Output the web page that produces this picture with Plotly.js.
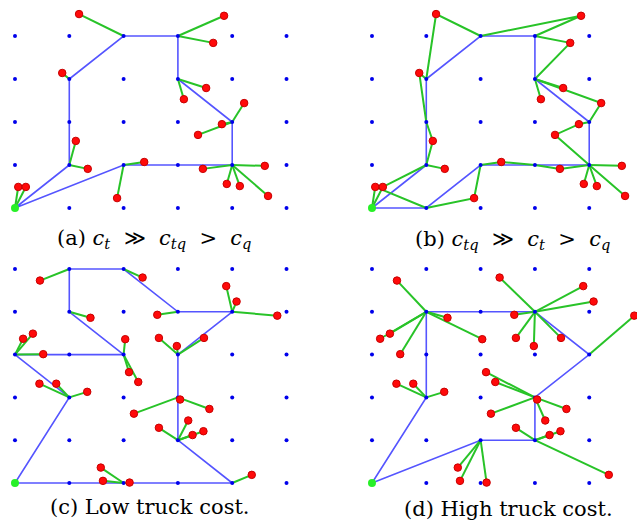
<!DOCTYPE html>
<html>
<head>
<meta charset="utf-8">
<script src="https://cdn.plot.ly/plotly-3.0.1.min.js"></script>
<style>html,body{margin:0;padding:0;background:#fff;}#chart{width:637px;height:522px;}</style>
</head>
<body>
<div id="chart"></div>
<script>
// ---------- grid (candidate stop locations) ----------
const gridCols = [0, 1, 2, 3, 4, 5];
const gridRowsTop = [0, 1, 2, 3, 4];
const gridRowsBottom = [0, 1, 2, 3, 4, 5];
const depotX = [0];
const depotY = [0];

// ---------- customers, instance of panels (a)/(b) ----------
const custTopX = [1.18, 3.85, 3.65, 0.87, 3.52, 3.11, 4.22, 3.81, 3.37, 1.12, 1.34, 2.38, 1.88, 3.46, 4.60, 3.90, 4.14, 4.66, 0.06, 0.20];
const custTopY = [4.51, 4.47, 3.84, 3.14, 2.79, 2.53, 2.44, 1.95, 1.70, 1.56, 0.91, 1.07, 0.23, 0.91, 0.98, 0.56, 0.51, 0.28, 0.49, 0.49];

// ---------- customers, instance of panels (c)/(d) ----------
const custBotX = [0.46, 2.35, 3.89, 4.08, 4.83, 1.39, 2.62, 0.15, 0.33, 0.52, 2.03, 2.65, 2.98, 3.48, 2.10, 2.27, 0.45, 0.76, 1.33, 3.04, 3.58, 2.19, 3.19, 2.65, 3.47, 3.27, 1.58, 1.62, 2.11, 4.36];
const custBotY = [4.73, 4.80, 4.60, 4.24, 3.91, 3.86, 3.93, 3.37, 3.49, 3.01, 3.36, 3.39, 3.20, 3.39, 2.59, 2.36, 2.32, 2.32, 2.13, 1.95, 1.73, 1.62, 1.46, 1.29, 1.21, 1.12, 0.36, 0.05, 0.01, 0.19];

// ---------- truck routes ----------
const truckAX = [0, 1, 1, 1, 2, 3, 3, 4, 4, 3, 2, 0];
const truckAY = [0, 1, 2, 3, 4, 4, 3, 2, 1, 1, 1, 0];
const truckBX = [0, 1, 2, 3, 4, 4, 3, 3, 2, 1, 1, 1, 0];
const truckBY = [0, 0, 1, 1, 1, 2, 3, 4, 4, 3, 2, 1, 0];
const truckCX = [0, 1, 0, 1, 2, 1, 1, 2, 3, 4, 3, 3, 3, 4, 3, 2, 1, 0];
const truckCY = [0, 2, 3, 3, 3, 4, 5, 5, 4, 4, 3, 2, 1, 0, 0, 0, 0, 0];
const truckDX = [0, 1, 1, 1, 2, 3, 4, 3, 3, 2, 0];
const truckDY = [0, 2, 3, 4, 4, 4, 3, 2, 1, 1, 0];

// ---------- drone assignments (stop serving each customer) ----------
const droneAStopX = [2, 3, 3, 1, 3, 3, 4, 4, 4, 1, 1, 2, 2, 4, 4, 4, 4, 4, 0, 0];
const droneAStopY = [4, 4, 4, 3, 3, 3, 2, 2, 2, 1, 1, 1, 1, 1, 1, 1, 1, 1, 0, 0];
const droneCStopX = [1, 2, 4, 4, 4, 1, 3, 0, 0, 0, 2, 3, 3, 3, 2, 2, 1, 1, 1, 3, 3, 3, 3, 3, 3, 3, 2, 2, 2, 4];
const droneCStopY = [5, 5, 4, 4, 4, 4, 4, 3, 3, 3, 3, 3, 3, 3, 3, 3, 2, 2, 2, 2, 2, 2, 1, 1, 1, 1, 0, 0, 0, 0];
const droneDStopX = [1, 3, 3, 3, 4, 1, 3, 1, 1, 1, 1, 3, 3, 3, 3, 3, 1, 1, 1, 3, 3, 3, 3, 3, 3, 3, 2, 2, 2, 3];
const droneDStopY = [4, 4, 4, 4, 3, 4, 4, 4, 4, 4, 4, 4, 4, 4, 2, 2, 2, 2, 2, 2, 2, 2, 2, 1, 1, 1, 1, 1, 1, 1];

// ---------- drone sorties of panel (b): launch node, customers (index), landing node ----------
const sortiesB = [
  [[2, 4], 0, [1, 3]],
  [[1, 3], 3, [1, 2]],
  [[1, 2], 9, [1, 1]],
  [[1, 1], 10],
  [[1, 1], 19, [0, 0]],
  [[0, 0], 18, [1, 0]],
  [[1, 0], 12, [2, 1]],
  [[2, 1], 11, [3, 1]],
  [[3, 1], 13, [4, 1]],
  [[4, 1], 14],
  [[4, 1], 15],
  [[4, 1], 16],
  [[4, 1], 17],
  [[4, 1], 8, 7, [4, 2]],
  [[4, 2], 6, [3, 3]],
  [[3, 3], 4],
  [[3, 3], 5],
  [[3, 3], 2, [3, 4]],
  [[3, 4], 1, [2, 4]]
];

// ---------- captions ----------
const captions = [
  "(a) <i>c</i><sub><i>t</i></sub> \u00a0≫\u00a0 <i>c</i><sub><i>tq</i></sub> \u00a0>\u00a0 <i>c</i><sub><i>q</i></sub>",
  "(b) <i>c</i><sub><i>tq</i></sub> \u00a0≫\u00a0 <i>c</i><sub><i>t</i></sub> \u00a0>\u00a0 <i>c</i><sub><i>q</i></sub>",
  "(c) Low truck cost.",
  "(d) High truck cost."
];

// ---------- styles ----------
const BLUE_LINE = 'rgb(85,85,255)';
const GREEN_LINE = 'rgb(40,195,40)';
const GRID_DOT = 'rgb(0,0,235)';
const RED = 'rgb(255,10,10)';
const DEPOT = 'rgb(40,240,40)';

function gridTrace(rows, xa, ya) {
  const x = [], y = [];
  rows.forEach(r => gridCols.forEach(c => {
    if (!(c === depotX[0] && r === depotY[0])) { x.push(c); y.push(r); }
  }));
  return {x, y, xaxis: xa, yaxis: ya, type: 'scatter', mode: 'markers',
    marker: {size: 4, color: GRID_DOT}, hoverinfo: 'skip'};
}
function starTrace(sx, sy, cx, cy, xa, ya) {
  const x = [], y = [];
  for (let i = 0; i < cx.length; i++) { x.push(sx[i], cx[i], null); y.push(sy[i], cy[i], null); }
  return {x, y, xaxis: xa, yaxis: ya, type: 'scatter', mode: 'lines',
    line: {color: GREEN_LINE, width: 2}, hoverinfo: 'skip', cliponaxis: false};
}
function sortieTrace(sorties, cx, cy, xa, ya) {
  const x = [], y = [];
  sorties.forEach(s => {
    s.forEach(p => {
      if (Array.isArray(p)) { x.push(p[0]); y.push(p[1]); }
      else { x.push(cx[p]); y.push(cy[p]); }
    });
    if (s.length === 2) { const p = s[0]; x.push(p[0]); y.push(p[1]); }
    x.push(null); y.push(null);
  });
  return {x, y, xaxis: xa, yaxis: ya, type: 'scatter', mode: 'lines',
    line: {color: GREEN_LINE, width: 2}, hoverinfo: 'skip', cliponaxis: false};
}
function truckTrace(x, y, xa, ya) {
  return {x, y, xaxis: xa, yaxis: ya, type: 'scatter', mode: 'lines',
    line: {color: BLUE_LINE, width: 1.6}, hoverinfo: 'skip'};
}
function custTrace(x, y, xa, ya) {
  return {x, y, xaxis: xa, yaxis: ya, type: 'scatter', mode: 'markers', cliponaxis: false,
    marker: {size: 7.5, color: RED, line: {color: 'rgb(200,0,0)', width: 1}}, hoverinfo: 'skip'};
}
function depotTrace(xa, ya) {
  return {x: depotX, y: depotY, xaxis: xa, yaxis: ya, type: 'scatter', mode: 'markers', cliponaxis: false,
    marker: {size: 8, color: DEPOT}, hoverinfo: 'skip'};
}

const data = [
  truckTrace(truckAX, truckAY, 'x', 'y'),
  starTrace(droneAStopX, droneAStopY, custTopX, custTopY, 'x', 'y'),
  gridTrace(gridRowsTop, 'x', 'y'),
  custTrace(custTopX, custTopY, 'x', 'y'),
  depotTrace('x', 'y'),

  truckTrace(truckBX, truckBY, 'x2', 'y2'),
  sortieTrace(sortiesB, custTopX, custTopY, 'x2', 'y2'),
  gridTrace(gridRowsTop, 'x2', 'y2'),
  custTrace(custTopX, custTopY, 'x2', 'y2'),
  depotTrace('x2', 'y2'),

  truckTrace(truckCX, truckCY, 'x3', 'y3'),
  starTrace(droneCStopX, droneCStopY, custBotX, custBotY, 'x3', 'y3'),
  gridTrace(gridRowsBottom, 'x3', 'y3'),
  custTrace(custBotX, custBotY, 'x3', 'y3'),
  depotTrace('x3', 'y3'),

  truckTrace(truckDX, truckDY, 'x4', 'y4'),
  starTrace(droneDStopX, droneDStopY, custBotX, custBotY, 'x4', 'y4'),
  gridTrace(gridRowsBottom, 'x4', 'y4'),
  custTrace(custBotX, custBotY, 'x4', 'y4'),
  depotTrace('x4', 'y4')
];

function ax(domain, range, anchor) {
  return {domain, range, anchor, visible: false, showgrid: false, zeroline: false, fixedrange: true};
}
const W = 637, H = 522;
const leftDom = [1.4 / W, 300.1 / W], rightDom = [358.4 / W, 635.4 / W];
const topDom = [1 - 220.9 / H, 1 - 3.75 / H], botDom = [1 - 495.84 / H, 1 - 258.3 / H];
const xLeft = [-0.25, 5.25], xRight = [-0.25, 4.85];
const yTop = [-0.3, 4.75], yBot = [-0.3, 5.25];

const capFont = {family: 'DejaVu Serif, Liberation Serif, serif', size: 21, color: '#000'};
const layout = {
  width: W, height: H,
  margin: {l: 0, r: 0, t: 0, b: 0},
  paper_bgcolor: '#fff', plot_bgcolor: '#fff',
  showlegend: false,
  xaxis: ax(leftDom, xLeft, 'y'), yaxis: ax(topDom, yTop, 'x'),
  xaxis2: ax(rightDom, xRight, 'y2'), yaxis2: ax(topDom, yTop, 'x2'),
  xaxis3: ax(leftDom, xLeft, 'y3'), yaxis3: ax(botDom, yBot, 'x3'),
  xaxis4: ax(rightDom, xRight, 'y4'), yaxis4: ax(botDom, yBot, 'x4'),
  annotations: [
    {text: captions[0], x: 154 / W, y: 1 - 239 / H},
    {text: captions[1], x: 512 / W, y: 1 - 240 / H},
    {text: captions[2], x: 150 / W, y: 1 - 507 / H},
    {text: captions[3], x: 508 / W, y: 1 - 509 / H}
  ].map(a => Object.assign(a, {xref: 'paper', yref: 'paper', showarrow: false,
    xanchor: 'center', yanchor: 'middle', font: capFont}))
};

Plotly.newPlot('chart', data, layout, {staticPlot: true, displayModeBar: false});
</script>
</body>
</html>
